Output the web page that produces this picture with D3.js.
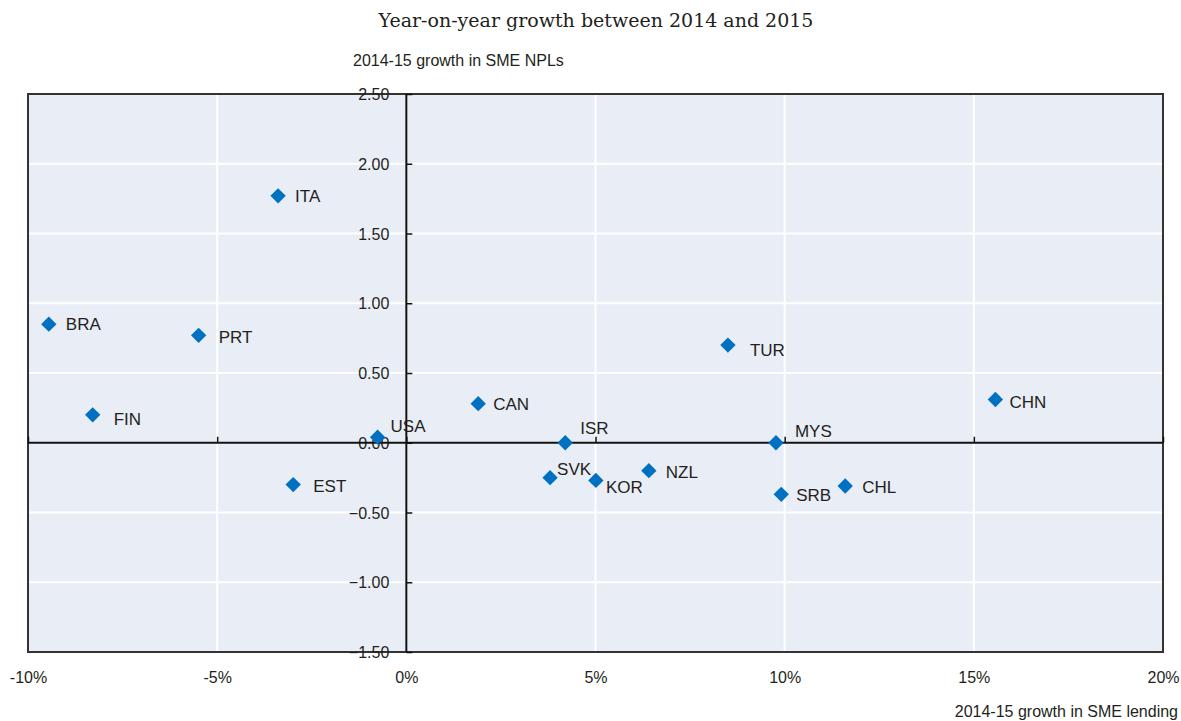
<!DOCTYPE html>
<html><head><meta charset="utf-8">
<script src="https://cdn.jsdelivr.net/npm/d3@7"></script>
<style>
html,body{margin:0;padding:0;background:#fff;}
text{font-family:"Liberation Sans",Arial,sans-serif;fill:#231f20;}
</style></head>
<body>
<svg id="chart" width="1181" height="721"></svg>
<script>
// Data
const countries = ["BRA","FIN","PRT","ITA","EST","USA","CAN","ISR","SVK","KOR","NZL","TUR","MYS","SRB","CHL","CHN"];
const lendingGrowth = [-9.45,-8.29,-5.49,-3.39,-2.99,-0.76,1.90,4.20,3.80,5.01,6.41,8.50,9.77,9.91,11.60,15.57]; // %
const nplGrowth = [0.85,0.20,0.77,1.77,-0.30,0.04,0.28,0.00,-0.25,-0.27,-0.20,0.70,0.00,-0.37,-0.31,0.31];
const xTicks = [-10,-5,0,5,10,15,20];
const yTicks = [-1.5,-1.0,-0.5,0,0.5,1.0,1.5,2.0,2.5];

// Label offsets (layout only)
const labelOffsets = {
  BRA:[17,0],FIN:[21,4],PRT:[20,2],ITA:[17,0],EST:[20,1],USA:[13,-11],CAN:[15,0],ISR:[15,-15],
  SVK:[7,-9],KOR:[10,7],NZL:[17,1],TUR:[22,5],MYS:[19,-12],SRB:[15,1],CHL:[17,1],CHN:[14,3]
};

const svg = d3.select("#chart");
const L=28, R=1163, T=94, B=652;
const x = d3.scaleLinear().domain([-10,20]).range([L,R]);
const y = d3.scaleLinear().domain([-1.5,2.5]).range([B,T]);

// subtitle
svg.append("text").attr("x",596).attr("y",27).attr("text-anchor","middle")
  .style("font-family","'DejaVu Serif','Liberation Serif',serif").style("font-size","19px")
  .text("Year-on-year growth between 2014 and 2015");

// background
svg.append("rect").attr("x",L).attr("y",T).attr("width",R-L).attr("height",B-T).attr("fill","#e9edf6");

// gridlines
svg.append("g").selectAll("line").data(yTicks).join("line")
  .attr("x1",L).attr("x2",R).attr("y1",d=>y(d)).attr("y2",d=>y(d))
  .attr("stroke","#fff").attr("stroke-width",2);
svg.append("g").selectAll("line").data(xTicks).join("line")
  .attr("y1",T).attr("y2",B).attr("x1",d=>x(d)).attr("x2",d=>x(d))
  .attr("stroke","#fff").attr("stroke-width",2);

// border
svg.append("rect").attr("x",L).attr("y",T).attr("width",R-L).attr("height",B-T)
  .attr("fill","none").attr("stroke","#333").attr("stroke-width",2);

// y axis at x=0
const yAxis = d3.axisRight(y).tickValues(yTicks).tickSize(6).tickFormat(d3.format(".2f"));
const gy = svg.append("g").attr("transform",`translate(${x(0)},0)`).call(yAxis);
gy.select(".domain").attr("stroke","#111").attr("stroke-width",2).attr("d",`M0,${T}V${B}`);
gy.selectAll(".tick line").attr("stroke","#111").attr("stroke-width",1.5);
gy.selectAll(".tick text").attr("x",-17).attr("text-anchor","end").attr("dy","0.35em")
  .style("font-size","16px").attr("fill","#231f20");

// x axis at y=0
const xAxis = d3.axisTop(x).tickValues(xTicks).tickSize(6).tickFormat(()=> "");
const gx = svg.append("g").attr("transform",`translate(0,${y(0)})`).call(xAxis);
gx.select(".domain").attr("stroke","#111").attr("stroke-width",2).attr("d",`M${L},0H${R}`);
gx.selectAll(".tick line").attr("stroke","#111").attr("stroke-width",1.5);

// x tick labels below plot
const xb = d3.axisBottom(x).tickValues(xTicks).tickSize(0).tickFormat(d=>d+"%");
const gxb = svg.append("g").attr("transform",`translate(0,${B})`).call(xb);
gxb.select(".domain").remove();
gxb.selectAll(".tick text").attr("y",20).attr("dy","0.71em").style("font-size","16px").attr("fill","#231f20");

// axis titles
svg.append("text").attr("x",353).attr("y",66).style("font-size","16px").text("2014-15 growth in SME NPLs");
svg.append("text").attr("x",1178).attr("y",717).attr("text-anchor","end").style("font-size","16px").text("2014-15 growth in SME lending");

// points
const data = countries.map((c,i)=>({c, x:lendingGrowth[i], y:nplGrowth[i]}));
const sym = d3.symbol().type(d3.symbolSquare).size(118);
svg.append("g").selectAll("path").data(data).join("path")
  .attr("d",sym).attr("fill","#0070c0")
  .attr("transform",d=>`translate(${x(d.x)},${y(d.y)}) rotate(45)`);

svg.append("g").selectAll("text").data(data).join("text")
  .attr("x",d=>x(d.x)+labelOffsets[d.c][0])
  .attr("y",d=>y(d.y)+labelOffsets[d.c][1])
  .attr("dy","0.35em").style("font-size","17px").text(d=>d.c);
</script>
</body></html>
